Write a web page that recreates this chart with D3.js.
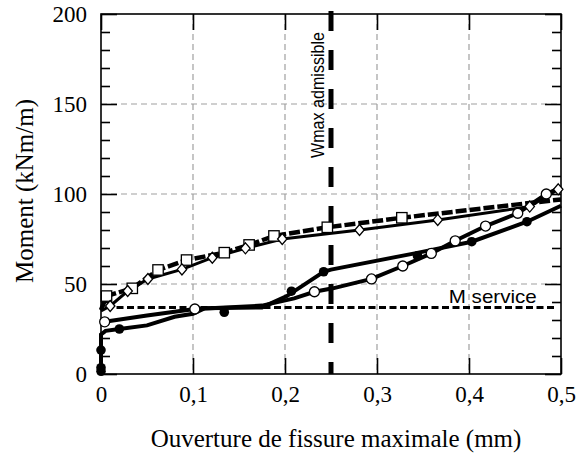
<!DOCTYPE html>
<html>
<head>
<meta charset="utf-8">
<script src="https://cdn.jsdelivr.net/npm/d3@7/dist/d3.min.js"></script>
<style>
  body { margin: 0; background: #fff; }
  .axis text { font-family: "Liberation Serif", "Times New Roman", serif; font-size: 23px; fill: #000; }
  .axis line { stroke: #000; stroke-width: 1.6px; }
  .axis path { display: none; }
</style>
</head>
<body>
<div id="chart"></div>
<script>
// tick values and labels
var xTicks = [0, 0.1, 0.2, 0.3, 0.4, 0.5];
var xTickLabels = ["0", "0,1", "0,2", "0,3", "0,4", "0,5"];
var yTicks = [0, 50, 100, 150, 200];
var yMinorTicks = [10, 20, 30, 40, 60, 70, 80, 90, 110, 120, 130, 140, 160, 170, 180, 190];

// series: [ouverture (mm), moment (kNm/m)]
var squareLine = [[0, 35.5], [0.006, 43.3], [0.034, 47.6], [0.062, 57.8], [0.093, 63.3], [0.134, 67.4],
  [0.161, 71.7], [0.188, 76.7], [0.246, 81.5], [0.327, 86.8], [0.5, 97]];
var squareMarks = [[0.006, 43.3], [0.034, 47.6], [0.062, 57.8], [0.093, 63.3], [0.134, 67.4],
  [0.161, 71.7], [0.188, 76.7], [0.246, 81.5], [0.327, 86.8]];

var diamondLine = [[0, 35], [0.010, 37.8], [0.029, 46.1], [0.051, 52.8], [0.088, 58.1], [0.121, 64.6],
  [0.157, 69.8], [0.197, 75], [0.281, 80], [0.366, 85.6], [0.466, 93], [0.497, 102.6], [0.5, 104]];
var diamondMarks = [[0.010, 37.8], [0.029, 46.1], [0.051, 52.8], [0.088, 58.1], [0.121, 64.6],
  [0.157, 69.8], [0.197, 75], [0.281, 80], [0.366, 85.6], [0.466, 93], [0.497, 102.6]];

var openLine = [[0, 29], [0.004, 29], [0.05, 32.5], [0.102, 36.1], [0.175, 38], [0.21, 42], [0.232, 45.7],
  [0.252, 47.6], [0.294, 52.8], [0.328, 60], [0.359, 67], [0.385, 74], [0.418, 82.2], [0.453, 89.3],
  [0.484, 100], [0.5, 103.7]];
var openMarks = [[0.004, 29], [0.102, 36.1], [0.232, 45.7], [0.294, 52.8], [0.328, 60], [0.359, 67],
  [0.385, 74], [0.418, 82.2], [0.453, 89.3], [0.484, 100]];

var filledLine = [[0, 0], [0, 13.3], [0, 22], [0.005, 24], [0.020, 25], [0.05, 27], [0.08, 31.8],
  [0.1, 33.5], [0.113, 36.5], [0.175, 37], [0.202, 43.3], [0.242, 56.8], [0.25, 58], [0.341, 67],
  [0.403, 73.5], [0.463, 84.6], [0.5, 93.5]];
var filledMarks = [[0, 1.5], [0, 3.5], [0, 13.3], [0.020, 25], [0.134, 34.3], [0.207, 46],
  [0.242, 56.8], [0.344, 65.6], [0.403, 73.5], [0.463, 84.6]];

var mService = 37;       // kNm/m
var mServiceEnd = 0.495; // mm
var wMax = 0.25;         // mm

// margins and svg size
var margin = { top: 14, right: 19, bottom: 80, left: 101 },
  width = 580 - margin.left - margin.right,
  height = 454 - margin.top - margin.bottom;

var svg = d3.select("#chart").append("svg")
  .attr("width", width + margin.left + margin.right)
  .attr("height", height + margin.top + margin.bottom)
  .append("g")
  .attr("transform", "translate(" + margin.left + "," + margin.top + ")");

var x = d3.scaleLinear().domain([0, 0.5]).range([0, width]);
var y = d3.scaleLinear().domain([0, 200]).range([height, 0]);

// grid
svg.selectAll(".vgrid").data(xTicks.slice(1, -1)).enter().append("line")
  .attr("x1", d => x(d)).attr("x2", d => x(d))
  .attr("y1", 0).attr("y2", height)
  .attr("stroke", "#a0a0a0").attr("stroke-width", 1.2).attr("stroke-dasharray", "6,4");
svg.selectAll(".hgrid").data(yTicks.slice(1, -1)).enter().append("line")
  .attr("x1", 0).attr("x2", width)
  .attr("y1", d => y(d)).attr("y2", d => y(d))
  .attr("stroke", "#a0a0a0").attr("stroke-width", 1.2).attr("stroke-dasharray", "6,4");

// axes (ticks pointing inside)
svg.append("g").attr("class", "axis")
  .attr("transform", "translate(0," + height + ")")
  .call(d3.axisBottom(x).tickValues(xTicks).tickSize(-16).tickPadding(12)
    .tickFormat((d, i) => xTickLabels[i]));
svg.append("g").attr("class", "axis")
  .call(d3.axisTop(x).tickValues(xTicks).tickSize(-16).tickFormat(""));
svg.append("g").attr("class", "axis")
  .call(d3.axisLeft(y).tickValues(yTicks).tickSize(-16).tickPadding(14));
svg.append("g").attr("class", "axis")
  .call(d3.axisLeft(y).tickValues(yMinorTicks).tickSize(-9).tickFormat(""));
svg.append("g").attr("class", "axis")
  .attr("transform", "translate(" + width + ",0)")
  .call(d3.axisRight(y).tickValues(yTicks).tickSize(-16).tickFormat(""));
svg.append("g").attr("class", "axis")
  .attr("transform", "translate(" + width + ",0)")
  .call(d3.axisRight(y).tickValues(yMinorTicks).tickSize(-9).tickFormat(""));

// frame
svg.append("rect")
  .attr("width", width).attr("height", height)
  .attr("fill", "none").attr("stroke", "#000").attr("stroke-width", 1.6);

// M service line
svg.append("line")
  .attr("x1", x(0) + 5).attr("x2", x(mServiceEnd))
  .attr("y1", y(mService)).attr("y2", y(mService))
  .attr("stroke", "#000").attr("stroke-width", 3).attr("stroke-dasharray", "7,3.5");
svg.append("text")
  .text("M service")
  .attr("x", x(0.378)).attr("y", y(mService) - 4)
  .attr("textLength", 88).attr("lengthAdjust", "spacingAndGlyphs")
  .style("font-family", "Liberation Sans, Arial, sans-serif")
  .style("font-size", "19px");

// Wmax line
svg.append("line")
  .attr("x1", x(wMax)).attr("x2", x(wMax))
  .attr("y1", -3).attr("y2", height)
  .attr("stroke", "#000").attr("stroke-width", 5).attr("stroke-dasharray", "20,19");
svg.append("text")
  .text("Wmax admissible")
  .attr("transform", "translate(" + (x(wMax) - 7) + "," + y(155) + ") rotate(-90)")
  .attr("text-anchor", "middle")
  .attr("textLength", 126).attr("lengthAdjust", "spacingAndGlyphs")
  .style("font-family", "Liberation Sans, Arial, sans-serif")
  .style("font-size", "18px");

// curves
var line = d3.line().x(d => x(d[0])).y(d => y(d[1]));

svg.append("path").datum(filledLine).attr("d", line)
  .attr("fill", "none").attr("stroke", "#000").attr("stroke-width", 4);
svg.append("path").datum(openLine).attr("d", line)
  .attr("fill", "none").attr("stroke", "#000").attr("stroke-width", 4);
svg.append("path").datum(diamondLine).attr("d", line)
  .attr("fill", "none").attr("stroke", "#000").attr("stroke-width", 3);
svg.append("path").datum(squareLine).attr("d", line)
  .attr("fill", "none").attr("stroke", "#000").attr("stroke-width", 4.5)
  .attr("stroke-dasharray", "11,3");

// markers
svg.selectAll(".filled").data(filledMarks).enter().append("circle")
  .attr("cx", d => x(d[0])).attr("cy", d => y(d[1])).attr("r", 4.8)
  .attr("fill", "#000");
svg.selectAll(".open").data(openMarks).enter().append("circle")
  .attr("cx", d => x(d[0])).attr("cy", d => y(d[1])).attr("r", 5)
  .attr("fill", "#fff").attr("stroke", "#000").attr("stroke-width", 1.3);
svg.selectAll(".square").data(squareMarks).enter().append("rect")
  .attr("x", d => x(d[0]) - 5.2).attr("y", d => y(d[1]) - 5.2)
  .attr("width", 10.4).attr("height", 10.4)
  .attr("fill", "#fff").attr("stroke", "#000").attr("stroke-width", 1.3);
svg.selectAll(".diamond").data(diamondMarks).enter().append("path")
  .attr("transform", d => "translate(" + x(d[0]) + "," + y(d[1]) + ")")
  .attr("d", "M0,-5.5L4.7,0L0,5.5L-4.7,0Z")
  .attr("fill", "#fff").attr("stroke", "#000").attr("stroke-width", 1.3);

// axis titles
svg.append("text")
  .text("Ouverture de fissure maximale (mm)")
  .attr("x", 235).attr("y", height + 73)
  .attr("text-anchor", "middle")
  .style("font-family", "Liberation Serif, Times New Roman, serif")
  .style("font-size", "25px");

svg.append("text")
  .text("Moment (kNm/m)")
  .attr("transform", "translate(-68," + 177 + ") rotate(-90)")
  .attr("text-anchor", "middle")
  .style("font-family", "Liberation Serif, Times New Roman, serif")
  .style("font-size", "25px");
</script>
</body>
</html>
